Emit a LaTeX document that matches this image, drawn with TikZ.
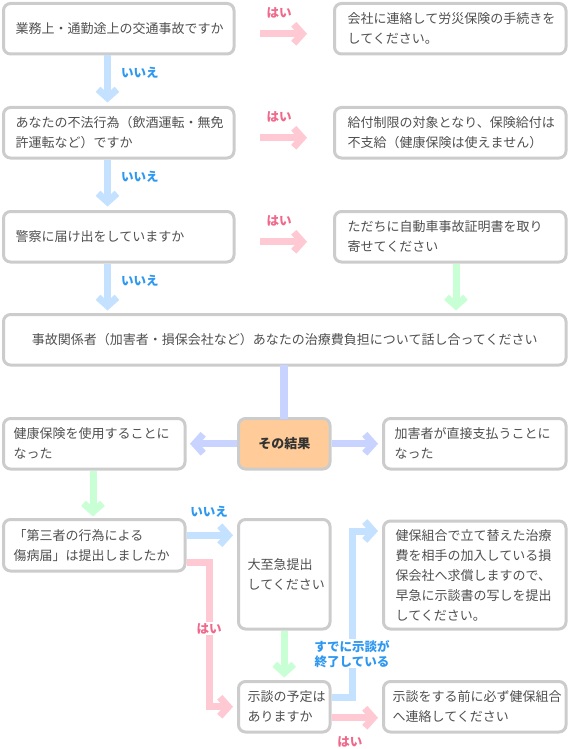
\documentclass[tikz,border=0pt]{standalone}
\usepackage{fontspec}
\newfontfamily\jpfont{Noto Sans CJK JP}
\usetikzlibrary{fit,positioning,calc,arrows.meta}

\definecolor{boxline}{HTML}{CCCCCC}
\definecolor{txtgray}{HTML}{505050}
\definecolor{noblue}{HTML}{C4E1FF}
\definecolor{yespink}{HTML}{FFC9D4}
\definecolor{okgreen}{HTML}{C9FFD5}
\definecolor{resblue}{HTML}{C8D4FF}
\definecolor{nolabel}{HTML}{2E98F0}
\definecolor{yeslabel}{HTML}{F0688A}
\definecolor{resfill}{HTML}{FFCC99}

\tikzset{
  box/.style={draw=boxline, line width=3pt, rounded corners=7pt, fill=white,
    inner sep=0pt, outer sep=0pt},
  txt/.style={font=\jpfont\fontsize{13}{20}\selectfont, text=txtgray,
    align=left, inner sep=0pt},
  arr/.style={line width=7pt, line join=miter, shorten <=1.5pt,
    -{Straight Barb[length=8.5pt,width=19pt]}},
  noarr/.style={arr, draw=noblue},
  yesarr/.style={arr, draw=yespink},
  okarr/.style={arr, draw=okgreen},
  resarr/.style={arr, draw=resblue},
  lbl/.style={font=\jpfont\bfseries\fontsize{12.5}{15}\selectfont, inner sep=1pt,
    align=center},
  nolbl/.style={lbl, text=nolabel},
  yeslbl/.style={lbl, text=yeslabel},
}

\begin{document}
\begin{tikzpicture}[x=1pt,y=-1pt]
  \useasboundingbox (0,0) rectangle (570,749);

  % questions on the left, answers on the right
  \node[fit={(3.5,3.5) (234,54)}, box] (work) {};
  \node[txt, right=12pt of work.west] (workt) {業務上・通勤途上の交通事故ですか};
  \node[fit={(334.5,3.5) (566,54)}, box] (rosai) {};
  \node[txt, right=13pt of rosai.west] (rosait) {会社に連絡して労災保険の手続きを\\してください。};

  \node[fit={(3.5,107.5) (234,158)}, box] (illegal) {};
  \node[txt, right=12pt of illegal.west] (illegalt) {あなたの不法行為（飲酒運転・無免\\許運転など）ですか};
  \node[fit={(334.5,107.5) (566,158)}, box] (limit) {};
  \node[txt, right=13pt of limit.west] (limitt) {給付制限の対象となり、保険給付は\\不支給（健康保険は使えません）};

  \node[fit={(3.5,211.5) (234,262)}, box] (police) {};
  \node[txt, right=12pt of police.west] (policet) {警察に届け出をしていますか};
  \node[fit={(334.5,211.5) (566,262)}, box] (cert) {};
  \node[txt, right=13pt of cert.west] (certt) {ただちに自動車事故証明書を取り\\寄せてください};

  \node[fit={(3.5,314.5) (566,365)}, box] (talk) {};
  \node[txt] (talkt) at (talk.center) {事故関係者（加害者・損保会社など）あなたの治療費負担について話し合ってください};

  % result row
  \node[fit={(238.5,418.5) (330,469)}, box, fill=resfill] (result) {};
  \node[txt, font=\jpfont\bfseries\fontsize{13}{20}\selectfont, text=black!80] (resultt) at (result.center) {その結果};
  \node[fit={(3.5,418.5) (185,469)}, box] (health) {};
  \node[txt, right=10pt of health.west] (healtht) {健康保険を使用することに\\なった};
  \node[fit={(383.5,418.5) (566,469)}, box] (direct) {};
  \node[txt, right=11pt of direct.west] (directt) {加害者が直接支払うことに\\なった};

  % third party report
  \node[fit={(3.5,519.5) (185,571)}, box] (third) {};
  \node[txt, right=10pt of third.west] (thirdt) {「第三者の行為による\\傷病届」は提出しましたか};
  \node[fit={(238.5,519.5) (330,629)}, box] (urgent) {};
  \node[txt, right=9pt of urgent.west] (urgentt) {大至急提出\\してください};
  \node[fit={(383.5,521) (566,629)}, box] (refund) {};
  \node[txt, right=12pt of refund.west] (refundt) {健保組合で立て替えた治療\\費を相手の加入している損\\保会社へ求償しますので、\\早急に示談書の写しを提出\\してください。};
  \node[fit={(238.5,681.5) (330,732)}, box] (settle) {};
  \node[txt, right=9pt of settle.west] (settlet) {示談の予定は\\ありますか};
  \node[fit={(383.5,681.5) (566,732)}, box] (before) {};
  \node[txt, right=9pt of before.west] (beforet) {示談をする前に必ず健保組合\\へ連絡してください};

  % no
  \draw[noarr, shorten >=5pt] ([xshift=104pt]work.south west) -- ([xshift=104pt]illegal.north west)
    node[nolbl, pos=0.35, right=9pt] (no1) {いいえ};
  \draw[noarr, shorten >=5pt] ([xshift=104pt]illegal.south west) -- ([xshift=104pt]police.north west)
    node[nolbl, pos=0.35, right=9pt] (no2) {いいえ};
  \draw[noarr, shorten >=4pt] ([xshift=104pt]police.south west) -- ([xshift=104pt]talk.north west)
    node[nolbl, pos=0.35, right=9pt] (no3) {いいえ};

  % yes
  \draw[yesarr, shorten <=26pt, shorten >=27.5pt] ([yshift=-5pt]work.east) -- ([yshift=-5pt]rosai.west)
    node[yeslbl, pos=0.45, yshift=21pt] (yes1) {はい};
  \draw[yesarr, shorten <=26pt, shorten >=27.5pt] ([yshift=-5pt]illegal.east) -- ([yshift=-5pt]limit.west)
    node[yeslbl, pos=0.45, yshift=21pt] (yes2) {はい};
  \draw[yesarr, shorten <=26pt, shorten >=27.5pt] ([yshift=-5pt]police.east) -- ([yshift=-5pt]cert.west)
    node[yeslbl, pos=0.45, yshift=21pt] (yes3) {はい};
  \draw[okarr, shorten >=4pt] ([xshift=121.5pt]cert.south west) -- ([xshift=121.5pt]cert.south west |- talk.north);

  % result
  \draw[resblue, line width=8pt] (talk.south -| result.north) -- (result.north);
  \draw[resarr, shorten >=5pt] (result.west) -- (health.east);
  \draw[resarr, shorten >=5.5pt] (result.east) -- (direct.west);
  \draw[okarr, shorten >=3pt] ([xshift=89.5pt]health.south west) -- ([xshift=89.5pt]health.south west |- third.north);

  \draw[noarr, shorten >=5.5pt] ([yshift=10pt]third.east) -- ([yshift=10pt]third.east -| urgent.west)
    node[nolbl, pos=0.45, yshift=23pt] (no4) {いいえ};
  \draw[yesarr, shorten >=5.5pt] ([yshift=-17pt]third.east) -| ([xshift=-29.5pt]settle.west)
    node[yeslbl, fill=white, pos=0.73] (yes4) {はい} -- (settle.west);
  \draw[okarr, shorten >=4pt] (urgent.south) -- (settle.north);
  \draw[noarr, shorten >=5.5pt] ([yshift=9.75pt]settle.east) -| ([shift={(-31.5pt,-10pt)}]refund.north west)
    node[nolbl, fill=white, pos=0.63] (done) {すでに示談が\\終了している} -- ([yshift=-10pt]refund.north west);
  \draw[yesarr, shorten >=5.5pt] ([yshift=-11pt]settle.east) -- ([yshift=-11pt]settle.east -| before.west)
    node[yeslbl, pos=0.37, yshift=-24pt] (yes5) {はい};
\end{tikzpicture}
\end{document}
